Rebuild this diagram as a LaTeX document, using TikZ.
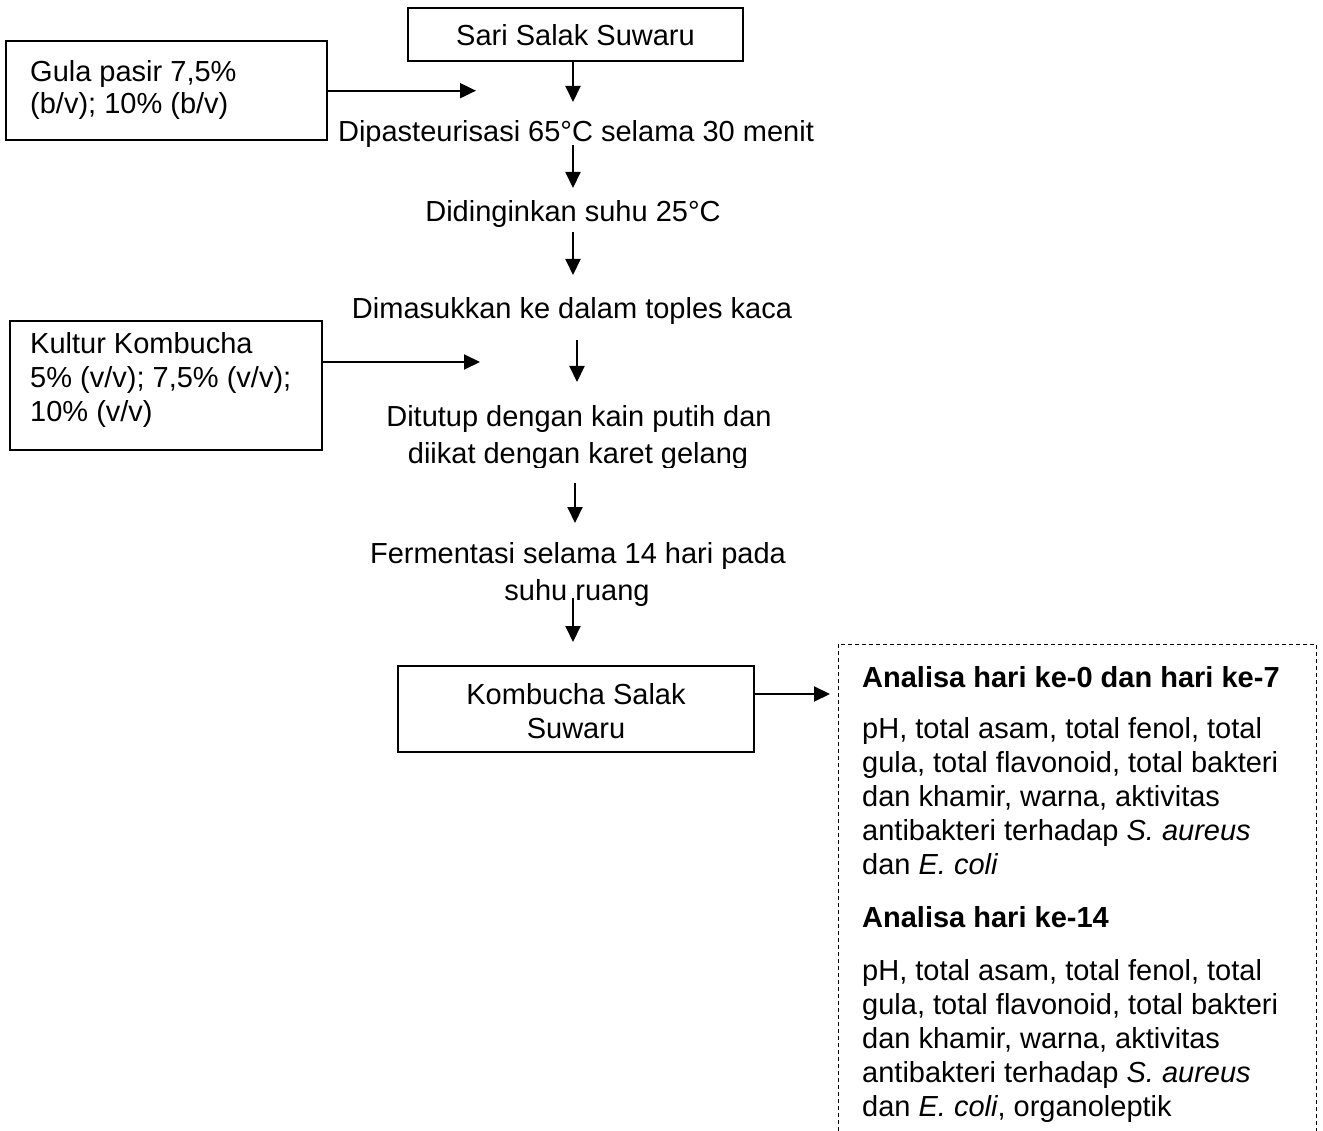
\documentclass[tikz,border=0pt]{standalone}
\usepackage{fontspec}
\setmainfont{Liberation Sans}
\usetikzlibrary{arrows.meta}
\tikzset{
  box/.style={draw, line width=1.7pt, inner sep=0pt},
  txt/.style={inner sep=0pt, font=\fontsize{29}{34}\selectfont},
  flow/.style={line width=2pt, -{Triangle[length=16pt,width=15pt]}},
  dashframe/.style={line width=0.9pt, dash pattern=on 4pt off 3pt},
}
\begin{document}
\begin{tikzpicture}[x=1pt,y=-1pt]
\useasboundingbox (0,0) rectangle (1323,1131);

% boxes
\node[box, minimum width=335pt, minimum height=53pt] (sari) at (575.5,34.5) {};
\node[txt, anchor=base] (sarit) at (575.5,46) {Sari Salak Suwaru};

\node[box, minimum width=321pt, minimum height=99pt] (gula) at (166.5,90.5) {};
\node[txt, anchor=base west] (gula1) at (30,82) {Gula pasir 7,5\%};
\node[txt, anchor=base west] (gula2) at (30,114) {(b/v); 10\% (b/v)};

\node[box, minimum width=312pt, minimum height=129pt] (kultur) at (166,385.5) {};
\node[txt, anchor=base west] (kul1) at (30,354) {Kultur Kombucha};
\node[txt, anchor=base west] (kul2) at (30,388) {5\% (v/v); 7,5\% (v/v);};
\node[txt, anchor=base west] (kul3) at (30,422) {10\% (v/v)};

\node[box, minimum width=356pt, minimum height=86pt] (komb) at (576,709) {};
\node[txt, anchor=base] (komb1) at (576,704) {Kombucha Salak};
\node[txt, anchor=base] (komb2) at (576,738) {Suwaru};

% process steps
\node[txt, anchor=base] (dip) at (576,142) {Dipasteurisasi 65°C selama 30 menit};
\node[txt, anchor=base] (didi) at (573,222) {Didinginkan suhu 25°C};
\node[txt, anchor=base] (dim) at (572,319) {Dimasukkan ke dalam toples kaca};
\node[txt, anchor=base] (ditu) at (579,427) {Ditutup dengan kain putih dan};
\begin{scope}
  \clip (300,430) rectangle (860,467);
  \node[txt, anchor=base] (diikat) at (578,464) {diikat dengan karet gelang};
\end{scope}
\node[txt, anchor=base] (ferm) at (578,563) {Fermentasi selama 14 hari pada};
\begin{scope}
  \clip (300,570) rectangle (860,605);
  \node[txt, anchor=base] (suhu) at (577,600) {suhu ruang};
\end{scope}

% analysis (dashed frame, open at the bottom)
\draw[dashframe] (838,1131) -- (838,644) -- (1316,644) -- (1316,1131);
\node[txt, anchor=base west, font=\fontsize{29}{34}\selectfont\bfseries] (an1) at (862,687) {Analisa hari ke-0 dan hari ke-7};
\node[txt, anchor=base west] (p1a) at (862,738) {pH, total asam, total fenol, total};
\node[txt, anchor=base west] (p1b) at (862,772) {gula, total flavonoid, total bakteri};
\node[txt, anchor=base west] (p1c) at (862,806) {dan khamir, warna, aktivitas};
\node[txt, anchor=base west] (p1d) at (862,840) {antibakteri terhadap \textit{S. aureus}};
\node[txt, anchor=base west] (p1e) at (862,874) {dan \textit{E. coli}};
\node[txt, anchor=base west, font=\fontsize{29}{34}\selectfont\bfseries] (an2) at (862,927) {Analisa hari ke-14};
\node[txt, anchor=base west] (p2a) at (862,980) {pH, total asam, total fenol, total};
\node[txt, anchor=base west] (p2b) at (862,1014) {gula, total flavonoid, total bakteri};
\node[txt, anchor=base west] (p2c) at (862,1048) {dan khamir, warna, aktivitas};
\node[txt, anchor=base west] (p2d) at (862,1082) {antibakteri terhadap \textit{S. aureus}};
\node[txt, anchor=base west] (p2e) at (862,1116) {dan \textit{E. coli}, organoleptik};

% arrow end points
\coordinate (c1) at (573,102);
\coordinate (c2) at (573,188);
\coordinate (c3) at (573,275);
\coordinate (c4) at (577,382);
\coordinate (c5) at (575,523);
\coordinate (c6) at (573,642);
\coordinate (g1) at (476,90.7);
\coordinate (k1) at (480,362);
\coordinate (k2) at (830,694);

% connectors
\draw[flow] (sari.south -| c1) -- (c1);
\draw[flow, shorten <=3pt] (dip.base -| c2) -- (c2);
\draw[flow, shorten <=10pt] (didi.base -| c3) -- (c3);
\draw[flow, shorten <=21pt] (dim.base -| c4) -- (c4);
\draw[flow, shorten <=19pt] (diikat.base -| c5) -- (c5);
\draw[flow, shorten <=-2pt] (suhu.base -| c6) -- (c6);
\draw[flow] (gula.east |- g1) -- (g1);
\draw[flow] (kultur.east |- k1) -- (k1);
\draw[flow] (komb.east |- k2) -- (k2);
\end{tikzpicture}
\end{document}
